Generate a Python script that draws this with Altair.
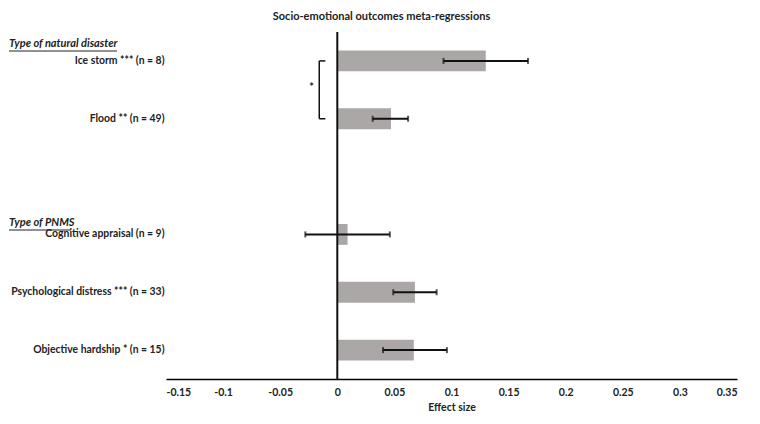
import altair as alt
import pandas as pd

categories = ["Ice storm *** (n = 8)", "Flood ** (n = 49)", " ",
              "Cognitive appraisal (n = 9)", "Psychological distress *** (n = 33)",
              "Objective hardship * (n = 15)"]
bar_labels = ["Ice storm *** (n = 8)", "Flood ** (n = 49)",
              "Cognitive appraisal (n = 9)", "Psychological distress *** (n = 33)",
              "Objective hardship * (n = 15)"]
effect = [0.130, 0.047, 0.009, 0.068, 0.067]
ci_low = [0.093, 0.031, -0.028, 0.049, 0.040]
ci_high = [0.167, 0.062, 0.046, 0.087, 0.096]
x_ticks = [-0.15, -0.1, -0.05, 0, 0.05, 0.1, 0.15, 0.2, 0.25, 0.3, 0.35]
headers = ["Type of natural disaster", "Type of PNMS"]

FONT = "Lato"
df = pd.DataFrame({"label": bar_labels, "effect": effect, "lo": ci_low, "hi": ci_high})

xs = alt.Scale(domain=[-0.15, 0.35], nice=False, zero=False)
ys = alt.Scale(domain=categories, paddingInner=0.64, paddingOuter=0.32)

base = alt.Chart(df)

bars = base.mark_bar(color="#ABA7A7").encode(
    x=alt.X("effect:Q", scale=xs, title="Effect size",
            axis=alt.Axis(values=x_ticks, grid=False, ticks=False, domainColor="#000000",
                          domainWidth=1.5, labelFont=FONT, labelFontSize=10.5,
                          labelFontWeight="bold", labelColor="#222222", labelPadding=8,
                          labelExpr="toString(round(datum.value*100)/100)",
                          titleFont=FONT, titleFontSize=10.5, titleFontWeight="bold",
                          titleColor="#222222", titlePadding=5)),
    x2=alt.datum(0),
    y=alt.Y("label:N", scale=ys, title=None,
            axis=alt.Axis(domain=False, ticks=False, labelFont=FONT, labelFontSize=10.4,
                          labelFontWeight="bold", labelColor="#222222", labelPadding=2,
                          labelLimit=300)),
)

err = base.mark_rule(color="#111111", strokeWidth=2).encode(
    x=alt.X("lo:Q", scale=xs), x2="hi:Q", y=alt.Y("label:N", scale=ys))
cap_lo = base.mark_tick(color="#111111", size=6, thickness=2).encode(
    x=alt.X("lo:Q", scale=xs), y=alt.Y("label:N", scale=ys))
cap_hi = base.mark_tick(color="#111111", size=6, thickness=2).encode(
    x=alt.X("hi:Q", scale=xs), y=alt.Y("label:N", scale=ys))

zero = alt.Chart(pd.DataFrame({"x": [0]})).mark_rule(color="#111111", strokeWidth=2).encode(
    x=alt.X("x:Q", scale=xs))

br = pd.DataFrame({"top": [categories[0]], "bot": [categories[1]], "xv": [-0.0158], "xe": [-0.0105]})
br_v = alt.Chart(br).mark_rule(color="#111111", strokeWidth=1.5).encode(
    x=alt.X("xv:Q", scale=xs), y=alt.Y("top:N", scale=ys), y2="bot:N")
br_t = alt.Chart(br).mark_rule(color="#111111", strokeWidth=1.5).encode(
    x=alt.X("xv:Q", scale=xs), x2="xe:Q", y=alt.Y("top:N", scale=ys))
br_b = alt.Chart(br).mark_rule(color="#111111", strokeWidth=1.5).encode(
    x=alt.X("xv:Q", scale=xs), x2="xe:Q", y=alt.Y("bot:N", scale=ys))
star = alt.Chart(pd.DataFrame({"t": ["*"], "x": [-0.0225]})).mark_text(
    font=FONT, fontSize=11, fontWeight="bold", color="#222222", baseline="middle").encode(
    x=alt.X("x:Q", scale=xs), y=alt.value(56), text="t:N")

hdr = alt.Chart(pd.DataFrame({"t": headers, "py": [12, 191]})).mark_text(
    font=FONT, fontSize=11, fontWeight="bold", fontStyle="italic", color="#222222",
    align="left", baseline="middle").encode(
    x=alt.value(-157), y=alt.Y("py:Q", scale=None), text="t:N")
ul = alt.Chart(pd.DataFrame({"py": [19, 198], "x1": [-157, -157], "x2": [-49, -95]})).mark_rule(
    color="#222222", strokeWidth=1).encode(
    x=alt.X("x1:Q", scale=None), x2="x2:Q", y=alt.Y("py:Q", scale=None))

chart = alt.layer(bars, err, cap_lo, cap_hi, zero, br_v, br_t, br_b, star, hdr, ul).properties(
    width=571, height=347,
    title=alt.TitleParams("Socio-emotional  outcomes meta-regressions", font=FONT, fontSize=11,
                          fontWeight="bold", color="#222222", dx=-70, offset=9),
    autosize=alt.AutoSizeParams(type="none"),
    padding={"left": 158, "top": 24, "right": 15, "bottom": 40},
).configure_view(stroke=None)

chart.save("out.html", embed_options={"renderer": "svg", "actions": False})
